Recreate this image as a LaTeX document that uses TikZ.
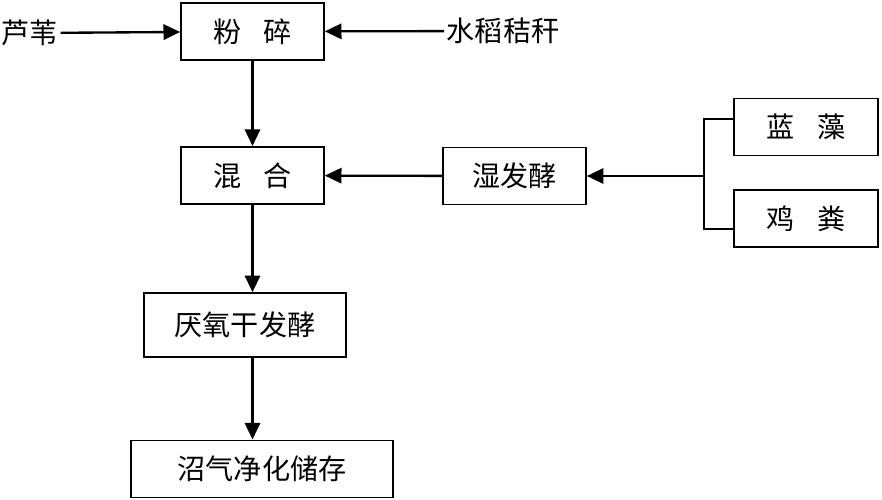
\documentclass[tikz,border=0pt]{standalone}
\usepackage{fontspec}
\setmainfont{Noto Sans CJK SC}
\usetikzlibrary{positioning, arrows.meta}

\begin{document}
\begin{tikzpicture}[x=0.03cm, y=-0.03cm,
	box/.style={draw, line width=1.4pt, inner sep=0pt, minimum width=4.29cm, minimum height=1.72cm},
	arr/.style={line width=2pt, -{Triangle[length=0.5cm, width=0.46cm]}},
	font=\fontsize{24}{28}\selectfont]
	\useasboundingbox (0,0) rectangle (882,500);

	\node[box] (fs) at (252.5,31.5) {粉\hspace{0.8em}碎};
	\node[box] (hh) at (252.5,175.5) {混\hspace{0.8em}合};
	\node[box] (sfj) at (514.5,176) {湿发酵};
	\node[box, minimum width=4.32cm] (lz) at (806,127) {蓝\hspace{0.8em}藻};
	\node[box, minimum width=4.32cm] (jf) at (806,218.5) {鸡\hspace{0.8em}粪};
	\node[box, minimum width=6.06cm, minimum height=1.92cm] (yy) at (245,325) {厌氧干发酵};
	\node[box, minimum width=7.86cm] (zq) at (262,469) {沼气净化储存};

	\node[inner sep=2pt] (lw) at (30,33) {芦苇};
	\node[inner sep=2pt] (sd) at (503,31) {水稻秸秆};
	\coordinate (fk) at (704,176);

	\draw [line width=2pt]
		([yshift=0.24cm]lz.west) -| (fk) |- ([yshift=-0.32cm]jf.west);

	\draw[arr] (lw) -- (fs);
	\draw[arr] (sd) -- (fs);
	\draw[arr] (fs) -- (hh);
	\draw[arr] (fk) -- (sfj.east);
	\draw[arr] (sfj) -- (hh);
	\draw[arr] (hh.south) -- (hh.south |- yy.north);
	\draw[arr] (yy.south -| hh) -- (zq.north -| hh);
\end{tikzpicture}
\end{document}
